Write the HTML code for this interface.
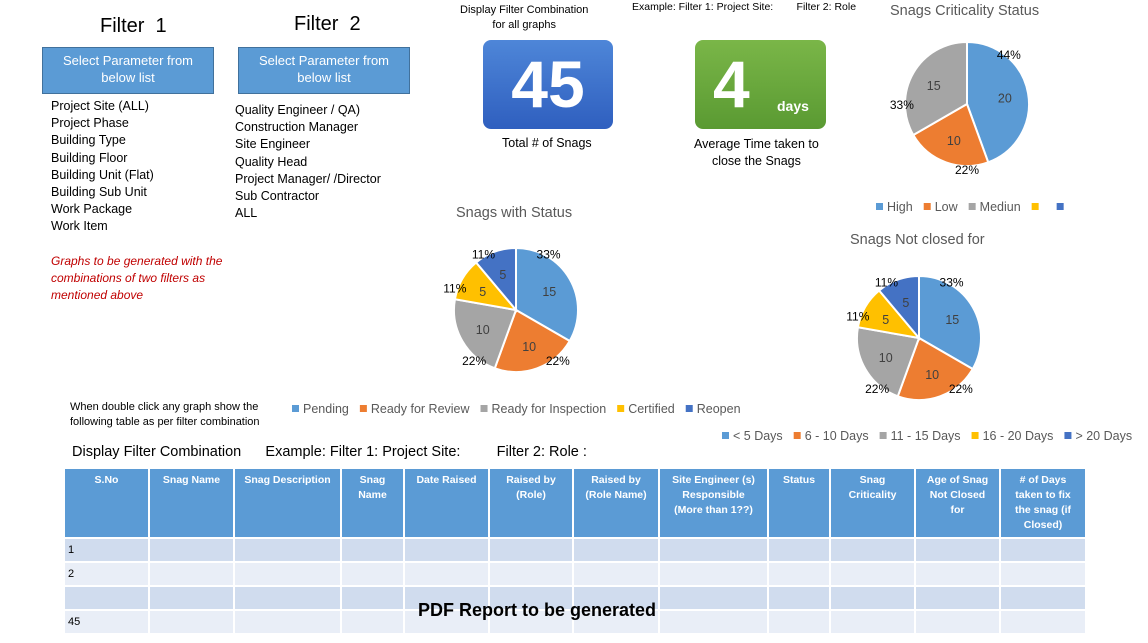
<!DOCTYPE html>
<html><head><meta charset="utf-8">
<style>
body{margin:0;width:1148px;height:643px;background:#fff;font-family:"Liberation Sans",sans-serif;position:relative;overflow:hidden}
.a{position:absolute;white-space:nowrap}
.btn{position:absolute;background:#5b9bd5;border:1px solid #41719c;color:#fff;font-size:13px;text-align:center;line-height:17px;box-sizing:border-box;padding-top:4px}
.list{position:absolute;font-size:12.5px;line-height:17.2px;color:#000}
.kpi{position:absolute;border-radius:8px;color:#fff;font-weight:bold}
table{position:absolute;left:63px;top:467px;border-collapse:collapse;font-size:11px;table-layout:fixed;width:1022px}
td,th{border:2px solid #fff;padding:0 3px;overflow:hidden}
th{background:#5b9bd5;color:#fff;font-weight:bold;vertical-align:top;height:64px;padding-top:4px;font-size:10.5px;line-height:15px}
tr.r1 td{background:#d0dcee;height:22px}
tr.r2 td{background:#e9eef7;height:22px}
</style></head><body>
<div class="a" style="left:100px;top:15px;font-size:20px">Filter&nbsp; 1</div>
<div class="a" style="left:294px;top:13px;font-size:20px">Filter&nbsp; 2</div>
<div class="btn" style="left:42px;top:47px;width:172px;height:47px">Select Parameter from<br>below list</div>
<div class="btn" style="left:238px;top:47px;width:172px;height:47px">Select Parameter from<br>below list</div>
<div class="list" style="left:51px;top:98px">Project Site (ALL)<br>Project Phase<br>Building Type<br>Building Floor<br>Building Unit (Flat)<br>Building Sub Unit<br>Work Package<br>Work Item</div>
<div class="list" style="left:235px;top:102px">Quality Engineer / QA)<br>Construction Manager<br>Site Engineer<br>Quality Head<br>Project Manager/ /Director<br>Sub Contractor<br>ALL</div>
<div class="list" style="left:51px;top:253px;color:#c00000;font-style:italic;font-size:12px">Graphs to be generated with the<br>combinations of two filters as<br>mentioned above</div>
<div class="a" style="left:460px;top:3px;font-size:11px;text-align:center;line-height:15px">Display Filter Combination<br>for all graphs</div>
<div class="a" style="left:632px;top:1px;font-size:10.5px">Example: Filter 1: Project Site:&nbsp;&nbsp;&nbsp;&nbsp;&nbsp;&nbsp;&nbsp; Filter 2: Role</div>
<div class="kpi" style="left:483px;top:40px;width:130px;height:89px;background:linear-gradient(#4e86d8,#2f5fbf);font-size:66px;text-align:center;line-height:89px">45</div>
<div class="a" style="left:502px;top:136px;font-size:12.5px">Total # of Snags</div>
<div class="kpi" style="left:695px;top:40px;width:131px;height:89px;background:linear-gradient(#7ab648,#5a9a32)"><span style="position:absolute;left:18px;top:4px;font-size:66px;line-height:80px">4</span><span style="position:absolute;left:82px;top:58px;font-size:14px">days</span></div>
<div class="a" style="left:694px;top:136px;font-size:12.5px;text-align:center;line-height:17px">Average Time taken to<br>close the Snags</div>
<div class="a" style="left:70px;top:400px;font-size:11px;line-height:15px">When double click any graph show the<br>following table as per filter combination</div>
<div class="a" style="left:72px;top:444px;font-size:14.5px">Display Filter Combination&nbsp;&nbsp;&nbsp;&nbsp;&nbsp; Example: Filter 1: Project Site:&nbsp;&nbsp;&nbsp;&nbsp;&nbsp;&nbsp;&nbsp;&nbsp; Filter 2: Role :</div>

<svg id="charts" width="1148" height="643" style="position:absolute;left:0;top:0"></svg>

<table>
<colgroup><col style="width:85px"><col style="width:85px"><col style="width:107px"><col style="width:63px"><col style="width:85px"><col style="width:84px"><col style="width:86px"><col style="width:109px"><col style="width:62px"><col style="width:85px"><col style="width:85px"><col style="width:86px"></colgroup>
<tr><th>S.No</th><th>Snag Name</th><th>Snag Description</th><th>Snag<br>Name</th><th>Date Raised</th><th>Raised by<br>(Role)</th><th>Raised by<br>(Role Name)</th><th>Site Engineer (s)<br>Responsible<br>(More than 1??)</th><th>Status</th><th>Snag<br>Criticality</th><th>Age of Snag<br>Not Closed<br>for</th><th># of Days<br>taken to fix<br>the snag (if<br>Closed)</th></tr>
<tr class="r1"><td>1</td><td></td><td></td><td></td><td></td><td></td><td></td><td></td><td></td><td></td><td></td><td></td></tr>
<tr class="r2"><td>2</td><td></td><td></td><td></td><td></td><td></td><td></td><td></td><td></td><td></td><td></td><td></td></tr>
<tr class="r1"><td></td><td></td><td></td><td></td><td></td><td></td><td></td><td></td><td></td><td></td><td></td><td></td></tr>
<tr class="r2"><td>45</td><td></td><td></td><td></td><td></td><td></td><td></td><td></td><td></td><td></td><td></td><td></td></tr>
</table>
<div class="a" style="left:418px;top:600px;font-size:18px;font-weight:bold">PDF Report to be generated</div>

<script>
const critCategories=["High","Low","Mediun","",""];
const critValues=[20,10,15,0,0];
const statusCategories=["Pending","Ready for Review","Ready for Inspection","Certified","Reopen"];
const statusValues=[15,10,10,5,5];
const ageCategories=["< 5 Days","6 - 10 Days","11 - 15 Days","16 - 20 Days","> 20 Days"];
const ageValues=[15,10,10,5,5];
const colors=["#5b9bd5","#ed7d31","#a5a5a5","#ffc000","#4472c4"];
const svg=document.getElementById('charts');
const NS="http://www.w3.org/2000/svg";
function el(t,a){const e=document.createElementNS(NS,t);for(const k in a)e.setAttribute(k,a[k]);svg.appendChild(e);return e;}
function pie(name,cx,cy,r,vals,title,tx,ty,cats,lx,ly){
  const t=el('text',{x:tx,y:ty,'font-size':14.5,fill:'#595959','font-family':'Liberation Sans'});t.textContent=title;
  
  
  const tot=vals.reduce((a,b)=>a+b,0);let ang=0;
  vals.forEach((v,i)=>{
    if(!v)return;
    const a0=ang,a1=ang+v/tot*2*Math.PI;ang=a1;
    const p=(a)=>[cx+r*Math.sin(a),cy-r*Math.cos(a)];
    const [x0,y0]=p(a0),[x1,y1]=p(a1);
    const s=el('path',{d:`M${cx},${cy}L${x0},${y0}A${r},${r} 0 ${a1-a0>Math.PI?1:0} 1 ${x1},${y1}Z`,fill:colors[i],stroke:'#fff','stroke-width':2});
    
    
    const m=(a0+a1)/2;
    const vt=el('text',{x:cx+0.62*r*Math.sin(m),y:cy-0.62*r*Math.cos(m)+5,'font-size':12.5,fill:'#404040','text-anchor':'middle'});vt.textContent=v;
    
    
    const pt=el('text',{x:cx+1.05*r*Math.sin(a0+(a1-a0)*0.25),y:cy-1.05*r*Math.cos(a0+(a1-a0)*0.25)+5,'font-size':12,fill:'#000','text-anchor':'middle'});pt.textContent=Math.round(v/tot*100)+'%';
    
    
  });
  let x=lx;
  cats.forEach((c,i)=>{
    const rr=el('rect',{x:x,y:ly-8,width:7,height:7,fill:colors[i]});
    
    
    const lt=el('text',{x:x+11,y:ly,'font-size':12.5,fill:'#595959'});lt.textContent=c;
    
    
    x+=11+lt.getComputedTextLength()+(c?11:14);
  });
}
pie('criticality-pie',967,104,62,critValues,'Snags Criticality Status',890,15,critCategories,876,211);
pie('status-pie',516,310,62,statusValues,'Snags with Status',456,217,statusCategories,292,413);
pie('age-pie',919,338,62,ageValues,'Snags Not closed for',850,244,ageCategories,722,440);
</script>
</body></html>
